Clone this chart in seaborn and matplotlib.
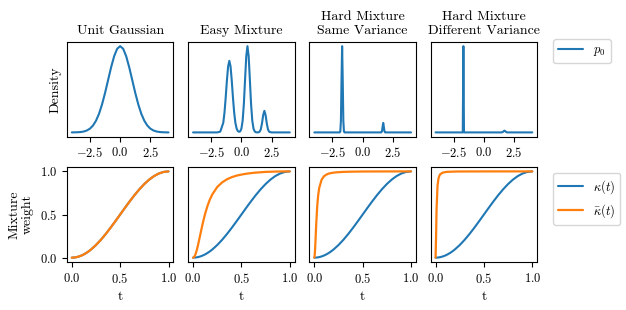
import matplotlib
matplotlib.use("Agg")
import matplotlib.pyplot as plt
import seaborn as sns

# densities p0
gauss_x = [-4.0, -3.5, -3.25, -3.0, -2.75, -2.5, -2.25, -2.0, -1.75, -1.5, -1.25, -1.0, -0.75, -0.5,
           -0.25, 0.0, 0.25, 0.5, 0.75, 1.0, 1.25, 1.5, 1.75, 2.0, 2.25, 2.5, 2.75, 3.0, 3.25, 3.5, 4.0]
gauss_y = [0.0001, 0.0009, 0.002, 0.0044, 0.0091, 0.0175, 0.0317, 0.054, 0.086, 0.1295, 0.1826, 0.242,
           0.301, 0.352, 0.3867, 0.3989, 0.3867, 0.352, 0.301, 0.242, 0.1826, 0.1295, 0.086, 0.054,
           0.0317, 0.0175, 0.0091, 0.0044, 0.002, 0.0009, 0.0001]

easy_x = [-4.0, -3.0, -2.0, -1.75, -1.5, -1.4, -1.3, -1.2, -1.1, -1.0, -0.9, -0.8, -0.7, -0.6, -0.5,
          -0.4, -0.3, -0.2, -0.1, 0.0, 0.1, 0.2, 0.3, 0.4, 0.5, 0.6, 0.7, 0.8, 0.9, 1.0, 1.1, 1.2,
          1.3, 1.4, 1.5, 1.6, 1.7, 1.8, 1.9, 2.0, 2.1, 2.2, 2.3, 2.5, 3.0, 4.0]
easy_y = [0.0, 0.0, 0.0, 0.009, 0.112, 0.231, 0.404, 0.603, 0.766, 0.83, 0.766, 0.603, 0.404, 0.231, 0.112,
          0.046, 0.016, 0.007, 0.012, 0.044, 0.135, 0.325, 0.607, 0.882, 1.0, 0.882, 0.607, 0.325, 0.135, 0.044,
          0.011, 0.002, 0.0, 0.001, 0.007, 0.034, 0.103, 0.2, 0.25, 0.2, 0.103, 0.034, 0.007, 0.0, 0.0, 0.0]

same_x = [-4.0, -3.0, -2.0, -1.9, -1.85, -1.8, -1.75, -1.7, -1.65, -1.6, -1.55, -1.5, -1.4, 0.0,
          1.4, 1.5, 1.55, 1.6, 1.65, 1.7, 1.75, 1.8, 1.85, 1.9, 2.0, 3.0, 4.0]
same_y = [0.0, 0.0, 0.0, 0.0, 0.011, 0.135, 0.607, 1.0, 0.607, 0.135, 0.011, 0.0, 0.0, 0.0,
          0.0, 0.0, 0.001, 0.015, 0.067, 0.11, 0.067, 0.015, 0.001, 0.0, 0.0, 0.0, 0.0]

diff_x = [-4.0, -3.0, -2.0, -1.75, -1.7, -1.65, -1.0, 0.0, 1.0, 1.45, 1.5, 1.55, 1.6, 1.65, 1.7,
          1.75, 1.8, 1.85, 1.9, 1.95, 3.0, 4.0]
diff_y = [0.0, 0.0, 0.0, 0.0, 1.0, 0.0, 0.0, 0.0, 0.0, 0.0, 0.001, 0.004, 0.009, 0.016, 0.02,
          0.016, 0.009, 0.004, 0.001, 0.0, 0.0, 0.0]

# mixture weights
t = [0.0, 0.005, 0.01, 0.02, 0.03, 0.04, 0.05, 0.075, 0.1, 0.125, 0.15, 0.175, 0.2, 0.25, 0.3,
     0.35, 0.4, 0.45, 0.5, 0.55, 0.6, 0.65, 0.7, 0.75, 0.8, 0.85, 0.9, 0.95, 1.0]
kappa = [0.0, 0.0001, 0.0002, 0.001, 0.0022, 0.0039, 0.0062, 0.0138, 0.0245, 0.0381, 0.0545, 0.0737,
         0.0955, 0.1464, 0.2061, 0.2730, 0.3455, 0.4218, 0.5, 0.5782, 0.6545, 0.7270, 0.7939, 0.8536,
         0.9045, 0.9455, 0.9755, 0.9938, 1.0]
kbar_easy = [0.0, 0.0016, 0.0065, 0.0253, 0.0553, 0.0943, 0.140, 0.269, 0.398, 0.510, 0.603, 0.677,
             0.735, 0.819, 0.872, 0.908, 0.933, 0.951, 0.963, 0.973, 0.980, 0.986, 0.990, 0.994,
             0.996, 0.998, 0.999, 1.0, 1.0]
kbar_same = [0.0, 0.040, 0.141, 0.397, 0.597, 0.725, 0.805, 0.903, 0.944, 0.963, 0.975, 0.981,
             0.986, 0.991, 0.994, 0.996, 0.997, 0.998, 0.9985, 0.999, 0.999, 0.9995, 0.9996, 0.9997,
             0.9998, 0.9999, 1.0, 1.0, 1.0]
kbar_diff = [0.0, 0.236, 0.553, 0.832, 0.917, 0.952, 0.969, 0.986, 0.992, 0.995, 0.996, 0.997,
             0.998, 0.999, 0.999, 0.9995, 0.9996, 0.9997, 0.9998, 0.9999, 1.0, 1.0, 1.0, 1.0,
             1.0, 1.0, 1.0, 1.0, 1.0]

titles = ["Unit Gaussian", "Easy Mixture", "Hard Mixture\nSame Variance",
          "Hard Mixture\nDifferent Variance"]
densities = [(gauss_x, gauss_y), (easy_x, easy_y), (same_x, same_y), (diff_x, diff_y)]
kbars = [kappa, kbar_easy, kbar_same, kbar_diff]

sns.set_style("ticks")
plt.rcParams["font.family"] = ["cmr10", "DejaVu Serif"]
plt.rcParams["mathtext.fontset"] = "cm"
plt.rcParams["axes.formatter.use_mathtext"] = True
plt.rcParams["axes.edgecolor"] = "black"
plt.rcParams["xtick.color"] = "black"
plt.rcParams["ytick.color"] = "black"
plt.rcParams["text.color"] = "black"
plt.rcParams["axes.labelcolor"] = "black"

blue, orange = "#1f77b4", "#ff7f0e"

fig, axes = plt.subplots(2, 4, figsize=(6.26, 3.1), dpi=100)
fig.subplots_adjust(left=0.107, right=0.858, top=0.865, bottom=0.155, wspace=0.14, hspace=0.32)

for i in range(4):
    ax = axes[0, i]
    x, y = densities[i]
    sns.lineplot(x=x, y=y, ax=ax, color=blue, linewidth=1.5, label="$p_0$" if i == 3 else None)
    ax.set_title(titles[i], fontsize=10)
    ax.set_yticks([])
    ax.set_xticks([-2.5, 0.0, 2.5])
    ax.tick_params(labelsize=9)

    ax = axes[1, i]
    sns.lineplot(x=t, y=kappa, ax=ax, color=blue, linewidth=1.5,
                 label=r"$\kappa(t)$" if i == 3 else None)
    sns.lineplot(x=t, y=kbars[i], ax=ax, color=orange, linewidth=1.6,
                 label=r"$\bar{\kappa}(t)$" if i == 3 else None)
    ax.set_ylim(-0.05, 1.05)
    ax.set_xticks([0.0, 0.5, 1.0])
    ax.set_yticks([0.0, 0.5, 1.0])
    ax.set_xlabel("t", fontsize=10)
    ax.tick_params(labelsize=9)
    if i > 0:
        ax.set_yticks([])

axes[0, 0].set_ylabel("Density", fontsize=10)
axes[1, 0].set_ylabel("Mixture\nweight", fontsize=10)

axes[0, 3].legend(loc="upper left", bbox_to_anchor=(1.15, 1.03), borderaxespad=0, fontsize=9)
axes[1, 3].legend(loc="upper left", bbox_to_anchor=(1.15, 0.94), borderaxespad=0, fontsize=9)

fig.savefig("out.png", dpi=100)
